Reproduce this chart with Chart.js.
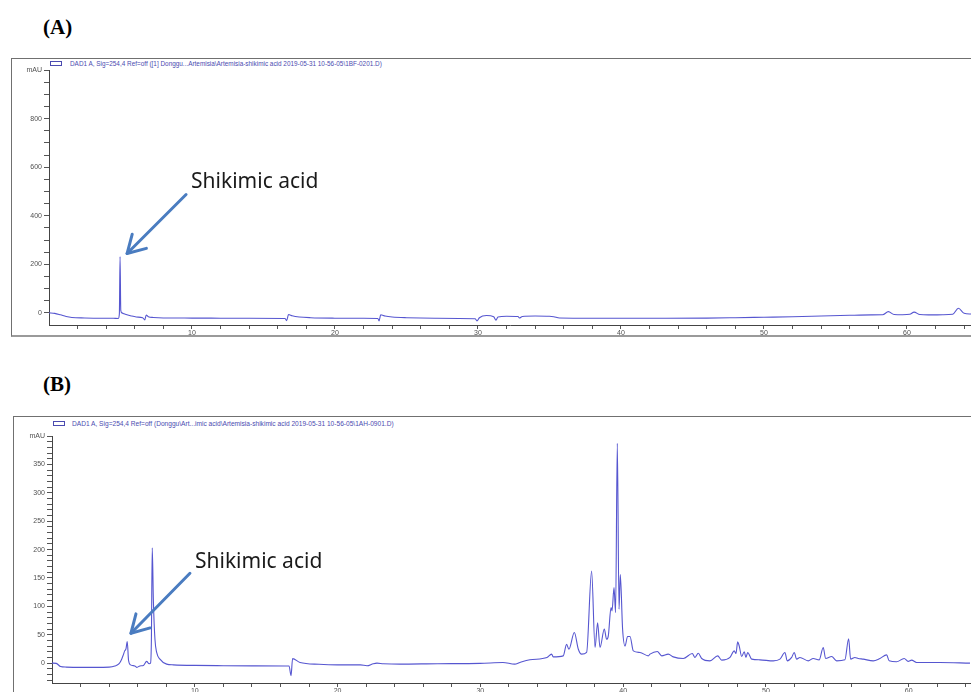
<!DOCTYPE html>
<html><head><meta charset="utf-8">
<script src="https://cdn.jsdelivr.net/npm/chart.js@4"></script>
<style>
html,body{margin:0;padding:0;background:#fff;width:971px;height:692px;overflow:hidden;position:relative;font-family:"Liberation Sans",Arial,sans-serif}
.lbl{position:absolute;font-family:"Liberation Serif","Times New Roman",serif;font-weight:bold;font-size:21px;color:#000;line-height:21px}
.frame{position:absolute;border:1px solid #707070;box-sizing:border-box}
.leg{position:absolute;font-size:6.4px;line-height:7px;color:#4b4bb0;white-space:nowrap}
.legbox{position:absolute;width:12px;height:5px;border:1px solid #4b4bb0;box-sizing:border-box}
canvas{position:absolute;left:0}
</style></head>
<body>
<div class="lbl" style="left:43px;top:17px">(A)</div>
<div class="lbl" style="left:43px;top:374px">(B)</div>
<div class="frame" style="left:11px;top:58px;width:980px;height:279px;border-bottom:2px solid #9a9a9a"></div>
<div class="frame" style="left:13px;top:416px;width:980px;height:300px"></div>
<div class="legbox" style="left:50px;top:61px"></div>
<div class="leg" style="left:70px;top:60px">DAD1 A, Sig=254,4 Ref=off ([1] Donggu...Artemisia\Artemisia-shikimic acid 2019-05-31 10-56-05\1BF-0201.D)</div>
<div class="legbox" style="left:53px;top:421px"></div>
<div class="leg" style="left:72px;top:420px;font-size:6.6px">DAD1 A, Sig=254,4 Ref=off (Donggu\Art...imic acid\Artemisia-shikimic acid 2019-05-31 10-56-05\1AH-0901.D)</div>
<canvas id="cA" width="971" height="345" style="top:0px;width:971px;height:345px"></canvas>
<canvas id="cB" width="971" height="300" style="top:400px;width:971px;height:300px"></canvas>
<script>
// ---- Panel A: retention time (min) and absorbance (mAU)
const timeA = [
 0, 0.4, 0.8, 1.2, 1.6, 2.5, 3.5, 4.5, 4.85, 4.92,
 4.97, 5.02, 5.1, 5.25, 5.45, 5.7, 6.1, 6.55, 6.7, 6.8,
 6.95, 7.3, 8, 10, 12, 14, 16.5, 16.62, 16.75, 17.0,
 17.5, 18.3, 20, 22, 23.0, 23.08, 23.2, 23.5, 24, 25,
 27, 29.8, 29.93, 30.1, 30.6, 31.1, 31.26, 31.4, 32.0, 32.8,
 32.9, 33.1, 34.0, 35.0, 35.3, 35.7, 38, 42, 46, 48,
 50, 52, 54, 56, 57.5, 58.3, 58.7, 59.1, 59.7, 60.2,
 60.5, 60.9, 61.5, 62.5, 63.2, 63.6, 64.0, 64.5];
const valueA = [
 0, -2, -8, -15, -19, -21, -22, -22.5, -23, -5,
 232, 10, 0, -4, -8, -12, -17, -20, -29, -9,
 -16, -19, -21, -21.5, -22, -22.5, -23, -32, -7, -12,
 -17, -20, -22, -22.5, -23, -33, -8, -13, -17, -20,
 -22, -24, -33, -20, -11, -16, -30, -17, -14, -15,
 -21, -15, -13, -14, -16, -21, -22, -22, -21.5, -20,
 -18, -16, -13, -10, -8.5, -8, 5, -7, -8, -6,
 3, -7, -8.5, -8, -6, 19, -2, -5];

// ---- Panel B
const timeB = [
 0, 0.3, 0.6, 1.0, 2.0, 3.0, 4.0, 4.4, 4.7, 4.88,
 5.0, 5.09, 5.18, 5.27, 5.36, 5.5, 5.8, 5.95, 6.15, 6.4,
 6.63, 6.8, 6.9, 6.96, 7.02, 7.1, 7.21, 7.33, 7.56, 8.03,
 8.5, 10, 12, 14, 16.4, 16.6, 16.74, 16.85, 17.37, 18.7,
 20, 21.6, 22.06, 22.5, 22.76, 23.2, 24.37, 27, 29.97, 31.58,
 32.4, 32.77, 33.47, 34.66, 34.99, 35.1, 35.8, 36.04, 36.2, 36.58,
 36.86, 37.09, 37.44, 37.79, 38.03, 38.21, 38.38, 38.68, 38.84, 38.96,
 39.15, 39.22, 39.36, 39.47, 39.59, 39.71, 39.8, 39.96, 40.13, 40.31,
 40.48, 40.71, 41.18, 41.76, 41.88, 42.39, 42.7, 43.16, 43.51, 44.21,
 44.84, 45.03, 45.26, 45.5, 46.08, 46.62, 46.9, 47.48, 47.78, 47.9,
 48.02, 48.13, 48.3, 48.48, 48.6, 48.72, 49.0, 49.58, 50.51, 50.98,
 51.33, 51.49, 51.8, 51.98, 52.15, 52.38, 52.96, 53.31, 53.73, 54.01,
 54.18, 54.6, 54.95, 55.53, 55.79, 55.93, 56.23, 56.46, 56.81, 57.51,
 57.98, 58.45, 58.63, 59.15, 59.68, 59.96, 60.2, 60.55, 62.18, 64.29];
const valueB = [
 0, -0.5, -6, -7, -7.5, -7.5, -7, -5, -1, 7,
 15, 21.6, 25, 38, 5, -3, -5, -7.5, -5, -4,
 3, -1, 0, 40, 203, 110, 42, 19, 7, -1.8,
 -3, -4, -4.5, -4.8, -5, -5, -22, 8, 1.2, -2,
 -3, -3, -4.7, -1, 0, -1, -1.8, -1, -0.5, 1.2,
 -1.8, 1.2, 5.8, 10, 15.8, 11, 12.8, 33, 24.5, 54,
 24.5, 15.8, 18.8, 162, 27.5, 71, 27.5, 60, 42, 48,
 98, 92, 133, 89, 387, 95, 156, 60, 30, 47,
 47, 21.6, 18.8, 12.8, 15.8, 20.5, 12.8, 15.8, 11, 8.2,
 17, 10, 17.5, 8.2, 4, 12.8, 5.3, 10, 21.6, 17,
 37.4, 30, 11.7, 20, 10, 18.8, 7, 5.8, 4, 7,
 18.8, 4, 10, 18.8, 7, 10, 4, 8.2, 5.8, 27.5,
 8.2, 11.7, 4, 5.8, 43, 7, 10, 8.2, 7, 4,
 8.2, 14.6, 4, 2.3, 8.2, 3, 5.3, 1.2, 1.2, 0];

// ---- tick positions
const xTicks = [2,4,6,8,10,12,14,16,18,20,22,24,26,28,30,32,34,36,38,40,42,44,46,48,50,52,54,56,58,60,62,64];
const yTicksA = [0,50,100,150,200,250,300,350,400,450,500,550,600,650,700,750,800,850,900,950,1000];
const yTicksB = [-30,-20,-10,0,10,20,30,40,50,60,70,80,90,100,110,120,130,140,150,160,170,180,190,200,210,220,230,240,250,260,270,280,290,300,310,320,330,340,350,360,370,380,390,400];
const peakLabel = 'Shikimic acid';

const arrowPlugin = {
  id: 'arrowNote',
  afterDatasetsDraw(chart, args, o) {
    if (!o || !o.text) return;
    const xs = chart.scales.x, ys = chart.scales.y, ctx = chart.ctx;
    const px = xs.getPixelForValue(o.t), py = ys.getPixelForValue(o.v);
    const tipX = px + o.dx, tipY = py + o.dy;
    const tailX = tipX + o.lx, tailY = tipY + o.ly;
    ctx.save();
    ctx.strokeStyle = '#4a7cc0'; ctx.lineWidth = 3; ctx.lineCap = 'round'; ctx.lineJoin = 'round';
    ctx.beginPath(); ctx.moveTo(tailX, tailY); ctx.lineTo(tipX, tipY); ctx.stroke();
    const ang = Math.atan2(tailY - tipY, tailX - tipX);
    const L = 20, a = Math.PI / 6;
    ctx.beginPath();
    ctx.moveTo(tipX + L * Math.cos(ang + a), tipY + L * Math.sin(ang + a));
    ctx.lineTo(tipX, tipY);
    ctx.lineTo(tipX + L * Math.cos(ang - a), tipY + L * Math.sin(ang - a));
    ctx.stroke();
    ctx.fillStyle = '#1a1a1a'; ctx.font = '21px "Noto Sans"'; ctx.textBaseline = 'middle'; ctx.textAlign = 'left';
    ctx.fillText(o.text, tailX + o.tx, tailY + o.ty);
    ctx.restore();
  }
};

function makeChart(id, times, values, cfg) {
  const pts = times.map((t, i) => ({x: t, y: values[i]}));
  return new Chart(document.getElementById(id), {
    type: 'scatter',
    data: {datasets: [{data: pts, showLine: true, borderColor: '#5656d0', borderWidth: 1.1,
      pointRadius: 0, fill: false, cubicInterpolationMode: 'monotone'}]},
    plugins: [arrowPlugin],
    options: {
      responsive: false, animation: false, devicePixelRatio: 1,
      layout: {padding: cfg.padding},
      plugins: {legend: {display: false}, tooltip: {enabled: false}, arrowNote: cfg.note},
      scales: {
        x: {
          type: 'linear', min: 0, max: cfg.xmax,
          afterFit: s => { s.height = 12; },
          afterBuildTicks: s => { s.ticks = xTicks.map(v => ({value: v})); },
          ticks: {autoSkip: false, maxRotation: 0, padding: 0, color: '#505050',
            font: {size: 7, family: '"Liberation Sans", Arial'},
            callback: v => (v % 10 === 0 ? String(v) : '')},
          grid: {display: true, drawOnChartArea: false, drawTicks: true, tickLength: 4, color: '#555'},
          border: {display: true, color: '#444', width: 1}
        },
        y: {
          type: 'linear', min: cfg.ymin, max: cfg.ymax,
          afterFit: s => { s.width = cfg.yw; },
          afterBuildTicks: s => { s.ticks = cfg.yticks.map(v => ({value: v})); },
          ticks: {autoSkip: false, padding: 2, color: '#505050',
            font: {size: 7, family: '"Liberation Sans", Arial'},
            callback: v => (v === cfg.ymax ? 'mAU' : (v % cfg.ystep === 0 ? String(v) : ''))},
          grid: {display: true, drawOnChartArea: false, drawTicks: true, tickLength: 5, color: '#555'},
          border: {display: true, color: '#444', width: 1}
        }
      }
    }
  });
}

makeChart('cA', timeA, valueA, {
  padding: {left: 0, top: 70, right: 0, bottom: 8},
  xmax: 64.48, ymin: -50, ymax: 1000, yw: 49, yticks: yTicksA, ystep: 200,
  note: {text: peakLabel, t: 4.97, v: 232, dx: 7, dy: -3, lx: 59, ly: -59, tx: 5, ty: -12}
});
makeChart('cB', timeB, valueB, {
  padding: {left: 0, top: 36, right: 0, bottom: 5},
  xmax: 64.36, ymin: -35, ymax: 400, yw: 52, yticks: yTicksB, ystep: 50,
  note: {text: peakLabel, t: 5.27, v: 38, dx: 3.7, dy: -8.3, lx: 59, ly: -60, tx: 5, ty: -11}
});
</script>
</body></html>
